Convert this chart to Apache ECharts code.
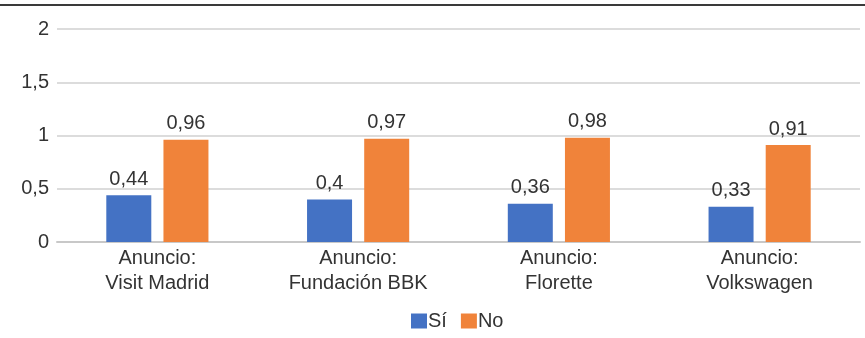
<!DOCTYPE html>
<html>
<head>
<meta charset="utf-8">
<script src="https://cdn.jsdelivr.net/npm/echarts@6/dist/echarts.min.js"></script>
<style>
  html, body { margin: 0; padding: 0; background: #fff; }
  #chart { width: 865px; height: 338px; }
</style>
</head>
<body>
<div id="chart"></div>
<script>
// Categories and values
const categories = ['Anuncio:\nVisit Madrid', 'Anuncio:\nFundación BBK', 'Anuncio:\nFlorette', 'Anuncio:\nVolkswagen'];
const seriesNames = ['Sí', 'No'];
const siValues = [0.44, 0.40, 0.36, 0.33];
const noValues = [0.96, 0.97, 0.98, 0.91];
const yTicks = [0, 0.5, 1, 1.5, 2];

const fontFamily = '"Liberation Sans", Arial, Helvetica, sans-serif';
const textColor = '#333333';
const fontSize = 20;
const comma = v => String(v).replace('.', ',');

const chart = echarts.init(document.getElementById('chart'), null, { renderer: 'canvas' });

const valueLabel = {
  show: true,
  position: 'top',
  distance: 6,
  color: textColor,
  fontSize: fontSize,
  fontFamily: fontFamily,
  formatter: p => comma(p.value)
};

chart.setOption({
  animation: false,
  backgroundColor: '#ffffff',
  textStyle: { fontFamily: fontFamily },
  graphic: [{
    type: 'line',
    shape: { x1: 0, y1: 5, x2: 865, y2: 5 },
    style: { stroke: '#3a3a3a', lineWidth: 2 },
    silent: true
  }],
  grid: { left: 57, right: 5, top: 29, bottom: 96, containLabel: false },
  legend: {
    data: seriesNames,
    top: 306,
    left: 406,
    icon: 'rect',
    itemWidth: 16,
    itemHeight: 15,
    itemGap: 14,
    textStyle: { fontSize: fontSize, color: textColor, fontFamily: fontFamily, padding: [0, 0, 0, -4] }
  },
  xAxis: {
    type: 'category',
    data: categories,
    axisLine: { show: true, lineStyle: { color: '#c8c8c8', width: 2 } },
    axisTick: { show: false },
    axisLabel: {
      color: textColor,
      fontSize: fontSize,
      lineHeight: 25,
      margin: 4,
      fontFamily: fontFamily
    }
  },
  yAxis: {
    type: 'value',
    min: yTicks[0],
    max: yTicks[yTicks.length - 1],
    interval: 0.5,
    axisLine: { show: false },
    axisTick: { show: false },
    splitLine: { lineStyle: { color: '#d0d0d0', width: 1.5 } },
    axisLabel: {
      color: textColor,
      fontSize: fontSize,
      margin: 8,
      fontFamily: fontFamily,
      formatter: v => comma(v)
    }
  },
  series: [
    {
      name: seriesNames[0],
      type: 'bar',
      data: siValues,
      barWidth: 45,
      barGap: '27%',
      itemStyle: { color: '#4472C4' },
      label: valueLabel
    },
    {
      name: seriesNames[1],
      type: 'bar',
      data: noValues,
      barWidth: 45,
      barGap: '27%',
      itemStyle: { color: '#F0833A' },
      label: valueLabel
    }
  ]
});
</script>
</body>
</html>
